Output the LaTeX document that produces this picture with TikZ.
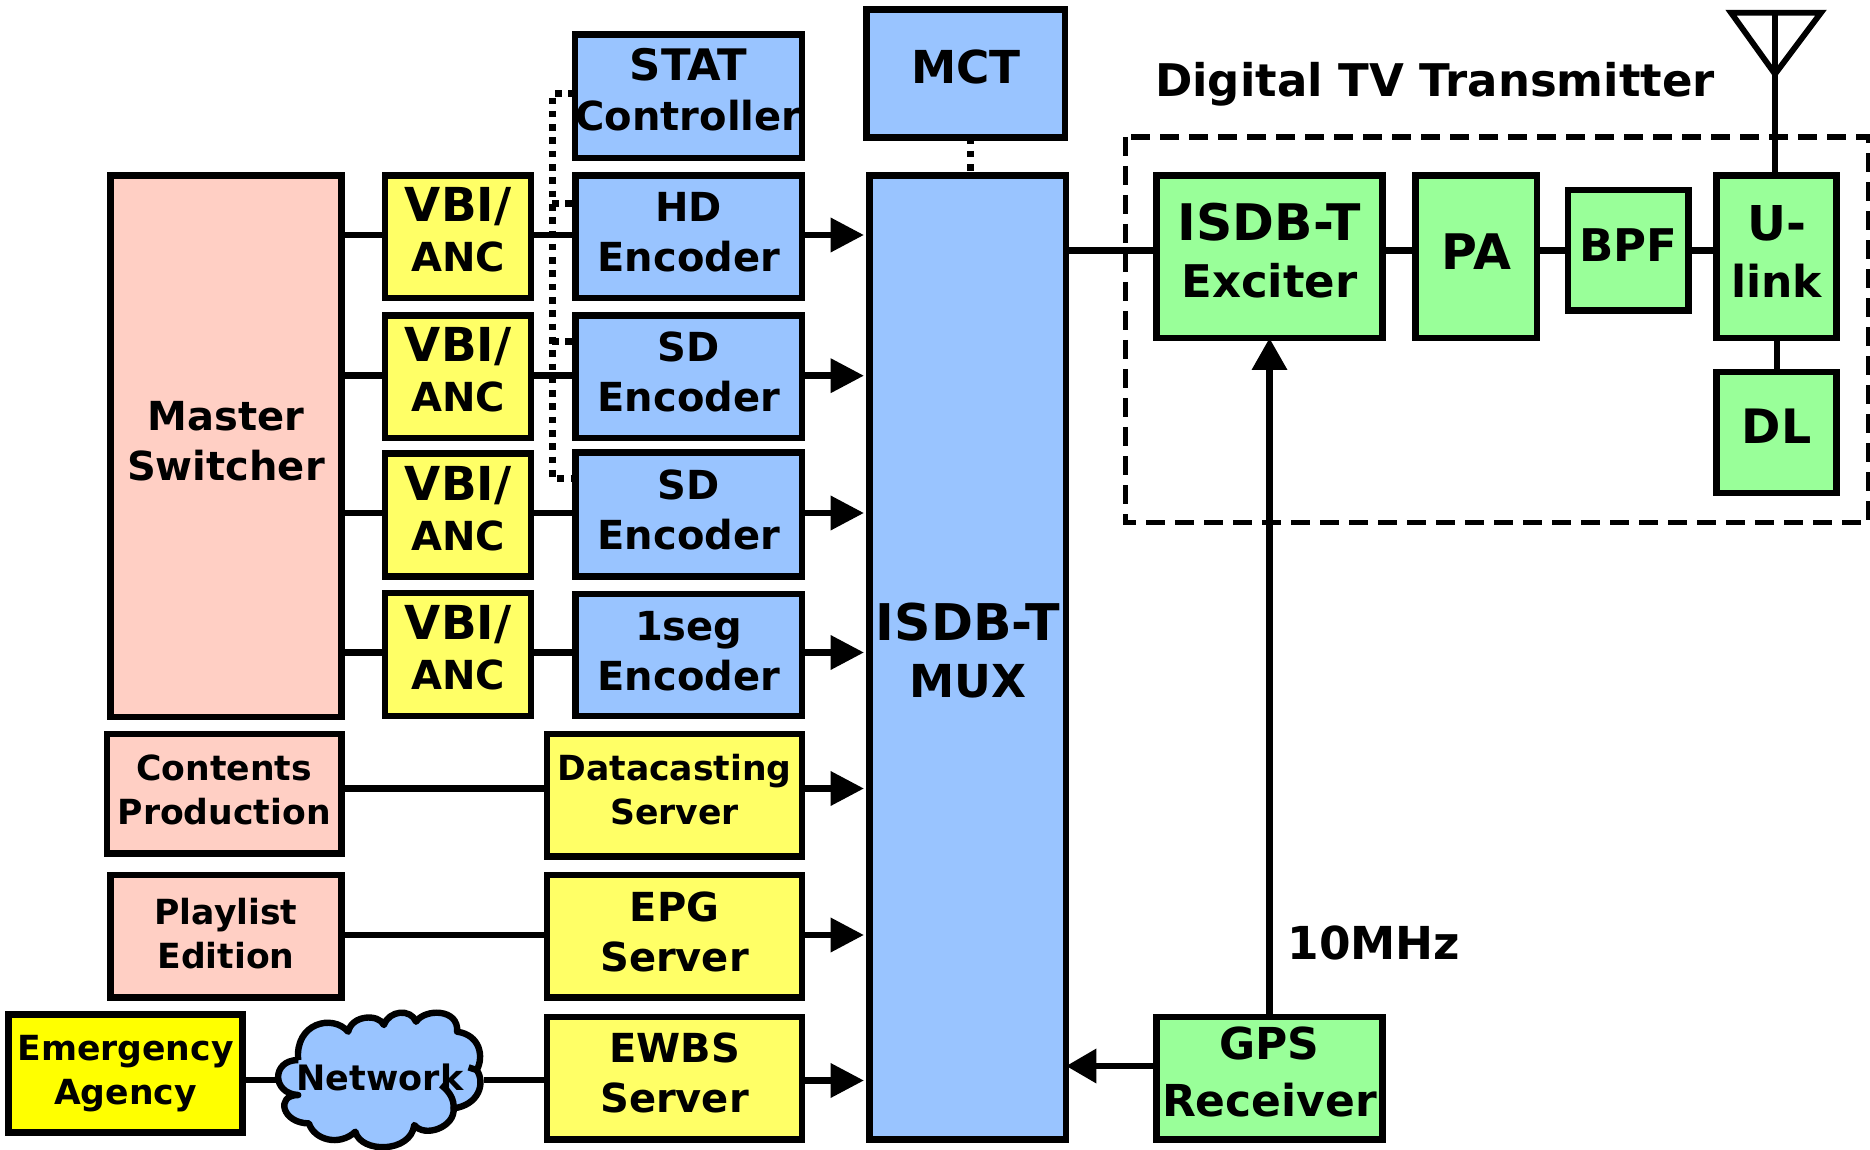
\documentclass[tikz,border=0pt]{standalone}
\usepackage{fontspec}
\setmainfont{DejaVu Sans}
\usetikzlibrary{arrows.meta,calc}
\definecolor{cblue}{HTML}{99C4FF}
\definecolor{cpink}{HTML}{FFCFC4}
\definecolor{cyel}{HTML}{FFFF66}
\definecolor{cyelb}{HTML}{FFFF00}
\definecolor{cgreen}{HTML}{99FF99}
\newcommand\fs[2]{\fontsize{#1}{#2}\selectfont\bfseries}
\newcommand\sz[1]{\fontsize{#1}{25}\selectfont}
\newcommand\bx[8][0pt]{\node[boxnode,#7,minimum width={(#5-#3)*0.5pt},minimum height={(#6-#4)*0.5pt}] (#2) at ({(#3+#5)/2},{(#4+#6)/2}) {\raisebox{#1}[\height][\depth]{\begin{tabular}{@{}c@{}}#8\end{tabular}}};}
\tikzset{
  boxnode/.style={draw=black,line width=3.4pt,inner sep=0pt,outer sep=0pt,text=black},
  bl/.style={fill=cblue},
  pk/.style={fill=cpink},
  yl/.style={fill=cyel},
  gr/.style={fill=cgreen},
  t20/.style={font=\fs{20}{25}},
  t17/.style={font=\fs{17.3}{22}},
  t22/.style={font=\fs{22}{28.5}},
  t24/.style={font=\fs{24}{28.5}},
  wire/.style={line width=3.4pt,line cap=butt},
  flow/.style={wire,-{Triangle[length=16.7pt,width=16.5pt]},shorten >=2.75pt},
  dots/.style={line width=3.5pt,dash pattern=on 3.3pt off 3.35pt},
  frame/.style={line width=2.8pt,dash pattern=on 9.5pt off 5pt},
}
\begin{document}
\begin{tikzpicture}[x=0.5pt,y=-0.5pt]
\useasboundingbox (0,0) rectangle (1870,1150);
\coordinate (r1) at (0,235);
\coordinate (r2) at (0,375.7);
\coordinate (r3) at (0,513);
\coordinate (r4) at (0,652.5);
\coordinate (r5) at (0,788.5);
\coordinate (r6) at (0,935);
\coordinate (r7) at (0,1080.5);
\coordinate (rg) at (0,1066);
\coordinate (rx) at (0,250.5);
\coordinate (d0) at (552,94);
\coordinate (d1) at (552,204);
\coordinate (d2) at (552,342);
\coordinate (d3) at (552,478);
\coordinate (ante) at (1775,12.7);
\coordinate (antl) at (1731,12.7);
\coordinate (antr) at (1821,12.7);
\coordinate (antb) at (1775,74);
\coordinate (fa) at (1125.5,137);
\coordinate (fb) at (1868.6,522.4);
% blocks
\bx[0.6pt]{mast}{110.6}{175.5}{341.4}{717}{pk,t20}{Master\\Switcher}
\bx{vbia}{385}{175.5}{531}{298}{yl,t20}{\sz{23.4}VBI/\\ANC}
\bx{vbib}{385}{315.5}{531}{438}{yl,t20}{\sz{23.4}VBI/\\ANC}
\bx{vbic}{385}{453.5}{531}{576.5}{yl,t20}{\sz{23.4}VBI/\\ANC}
\bx{vbid}{385}{593}{531}{716}{yl,t20}{\sz{23.4}VBI/\\ANC}
\bx[0.3pt]{stat}{575}{34.5}{802}{158}{bl,t20}{\sz{21.7}STAT\\Controller}
\bx{hd}{575.5}{175.5}{802}{298}{bl,t20}{HD\\Encoder}
\bx{sda}{575.5}{315.5}{802}{438}{bl,t20}{SD\\Encoder}
\bx{sdb}{575.5}{452.5}{802}{576.5}{bl,t20}{SD\\Encoder}
\bx{seg}{575.5}{594}{802}{716}{bl,t20}{1seg\\Encoder}
\bx[0.6pt]{mct}{866.5}{9.5}{1065}{137.5}{bl,t22}{\sz{22.7}MCT}
\bx{mux}{869.5}{175.5}{1066}{1139.5}{bl,t24}{\sz{25.3}ISDB-T\\\sz{22.7}MUX}
\bx{cont}{107}{734}{341.4}{853.5}{pk,t17}{Contents\\Production}
\bx[0.6pt]{data}{547}{734}{802}{856.5}{yl,t17}{Datacasting\\Server}
\bx[-0.6pt]{play}{110.6}{875}{341.4}{997.5}{pk,t17}{Playlist\\Edition}
\bx{epg}{547}{875}{802}{997.5}{yl,t20}{EPG\\Server}
\bx{emer}{8.5}{1014.5}{242.5}{1132.5}{fill=cyelb,t17}{Emergency\\Agency}
\bx[0.6pt]{ewbs}{547}{1017}{802}{1139.5}{yl,t20}{EWBS\\Server}
\bx[-0.3pt]{exc}{1156.5}{175.5}{1382.5}{338}{gr,t24}{\sz{25.2}ISDB-T\\\sz{22.5}Exciter}
\bx[-0.6pt]{pa}{1415.5}{175.5}{1537}{338}{gr,t22}{\sz{24.5}PA}
\bx[-0.6pt]{bpf}{1568}{190}{1688.5}{310.5}{gr,t20}{\sz{22.5}BPF}
\bx[-0.3pt]{ulk}{1716.5}{175.5}{1836.5}{338}{gr,t22}{\sz{24}U-\\link}
\bx{dl}{1716.5}{372}{1836.5}{493}{gr,t22}{\sz{23.7}DL}
\bx[0.9pt]{gps}{1156.5}{1017}{1382.5}{1139.5}{gr,t22}{GPS\\Receiver}
% cloud
\begin{scope}[x=0.17857pt,y=-0.16667pt,shift={(0,2940)}]
\draw[fill=cblue,line width=3.2pt,line join=round]
 (835,240) .. controls (825,130) and (930,100) .. (975,155)
 .. controls (985,105) and (1060,100) .. (1075,135)
 .. controls (1090,90) and (1150,85) .. (1165,125)
 .. controls (1190,85) and (1285,85) .. (1280,155)
 .. controls (1345,165) and (1355,230) .. (1335,270)
 .. controls (1360,310) and (1340,375) .. (1270,385)
 .. controls (1275,440) and (1190,475) .. (1160,435)
 .. controls (1150,520) and (1010,520) .. (995,455)
 .. controls (950,500) and (880,480) .. (865,430)
 .. controls (790,430) and (770,345) .. (835,345)
 .. controls (760,340) and (760,240) .. (835,240);
\draw[line width=3.2pt] (1235,315) .. controls (1260,335) and (1272,360) .. (1270,385);
\draw[line width=3.2pt] (1335,270) -- (1312,262);
\end{scope}
\node[font=\fs{17.5}{22},inner sep=0pt,outer sep=0pt,minimum width=104pt,minimum height=20pt] (net) at (380,1080) {\raisebox{1.2pt}[\height][\depth]{Network}};
\node[font=\fs{22.5}{28},inner sep=0pt] (title) at (1435,84) {Digital TV Transmitter};
\node[font=\fs{22.7}{28},inner sep=0pt] (mhz) at (1374,943) {10MHz};
% frame
\draw[frame] (fa) rectangle (fb);
% connectors
\draw[wire] (mast.east|-r1) -- (vbia.west|-r1);
\draw[wire] (mast.east|-r2) -- (vbib.west|-r2);
\draw[wire] (mast.east|-r3) -- (vbic.west|-r3);
\draw[wire] (mast.east|-r4) -- (vbid.west|-r4);
\draw[wire] (vbia.east|-r1) -- (hd.west|-r1);
\draw[wire] (vbib.east|-r2) -- (sda.west|-r2);
\draw[wire] (vbic.east|-r3) -- (sdb.west|-r3);
\draw[wire] (vbid.east|-r4) -- (seg.west|-r4);
\draw[flow] (hd.east|-r1) -- (mux.west|-r1);
\draw[flow] (sda.east|-r2) -- (mux.west|-r2);
\draw[flow] (sdb.east|-r3) -- (mux.west|-r3);
\draw[flow] (seg.east|-r4) -- (mux.west|-r4);
\draw[flow] (data.east|-r5) -- (mux.west|-r5);
\draw[flow] (epg.east|-r6) -- (mux.west|-r6);
\draw[flow] (ewbs.east|-r7) -- (mux.west|-r7);
\draw[wire] (cont.east|-r5) -- (data.west|-r5);
\draw[wire] (play.east|-r6) -- (epg.west|-r6);
\draw[wire] (emer.east|-net) -- (net.west);
\draw[wire] (net.east) -- (ewbs.west|-net);
\draw[dots] (stat.west|-d0) -- (d0) -- (d3) -- (sdb.west|-d3);
\draw[dots] (d1) -- (hd.west|-d1);
\draw[dots] (d2) -- (sda.west|-d2);
\draw[dots] (mct.south-|970.5,0) -- (mux.north-|970.5,0);
\draw[wire] (mux.east|-rx) -- (exc.west|-rx);
\draw[wire] (exc.east|-rx) -- (pa.west|-rx);
\draw[wire] (pa.east|-rx) -- (bpf.west|-rx);
\draw[wire] (bpf.east|-rx) -- (ulk.west|-rx);
\draw[wire] (ulk.south-|1777,0) -- (dl.north-|1777,0);
\draw[wire] (ulk.north-|ante) -- (ante);
\draw[line width=2.9pt,miter limit=3] (antl) -- (antr) -- (antb) -- cycle;
\draw[wire,-{Triangle[length=16pt,width=17pt]}] (gps.north) -- (exc.south);
\draw[wire,-{Triangle[length=15.2pt,width=16.5pt]}] (gps.west|-rg) -- (mux.east|-rg);
\end{tikzpicture}
\end{document}
